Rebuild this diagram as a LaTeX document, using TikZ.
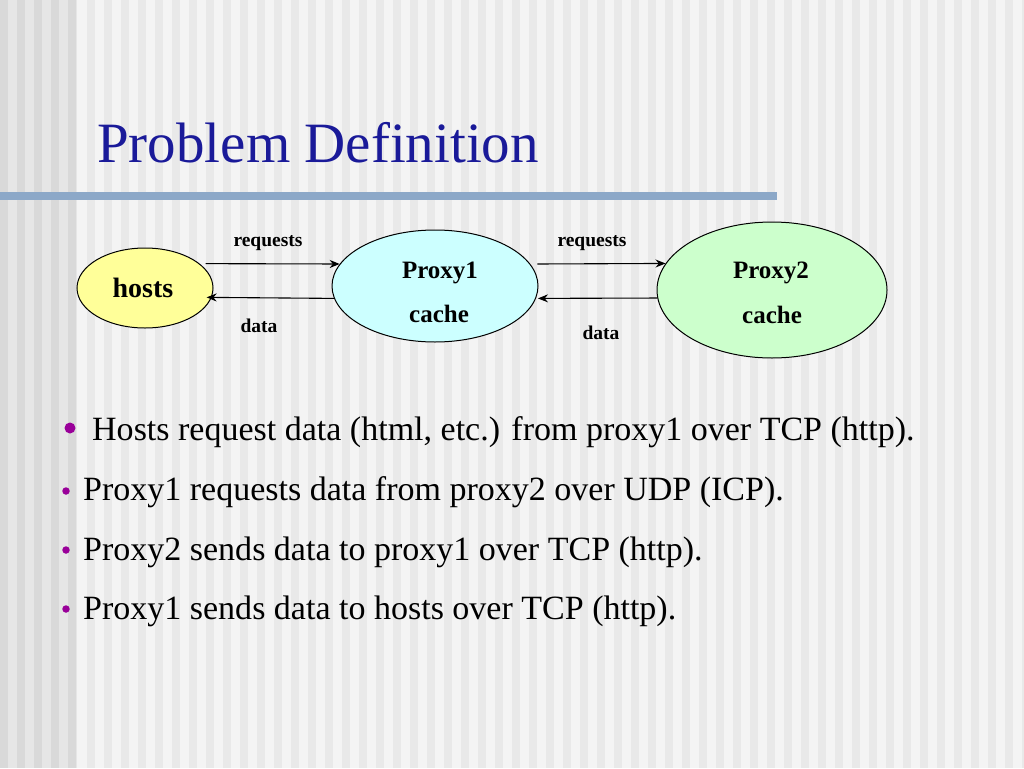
\documentclass[tikz,border=0pt]{standalone}
\usepackage{fontspec}
\setmainfont{Liberation Serif}
\usetikzlibrary{shapes.geometric,arrows.meta,calc}
\definecolor{bgbase}{HTML}{F4F4F4}
\definecolor{bgstripe}{HTML}{E9E9E9}
\definecolor{leftbase}{HTML}{E6E6E6}
\definecolor{leftstripe}{HTML}{D9D9D9}
\definecolor{titleblue}{HTML}{1A1A99}
\definecolor{barblue}{HTML}{8CA8C8}
\definecolor{hostfill}{HTML}{FFFF99}
\definecolor{pafill}{HTML}{CCFFFF}
\definecolor{pbfill}{HTML}{CCFFCC}
\definecolor{bulletpurple}{HTML}{990099}
\tikzset{
  blob/.style={ellipse, draw=black, line width=1pt, inner sep=0pt},
  nodetext/.style={font=\fontsize{25}{30}\selectfont\bfseries, inner sep=0pt, anchor=base},
  edgelabel/.style={font=\fontsize{19.5}{23}\selectfont\bfseries, inner sep=0pt, anchor=base},
  conn/.style={line width=1.1pt, -{Stealth[length=10pt,width=8pt]}},
  bullettext/.style={font=\fontsize{34}{40}\selectfont, inner sep=0pt, anchor=base west},
  dot/.style={circle, fill=bulletpurple, inner sep=0pt}
}
\begin{document}
\begin{tikzpicture}[x=1pt,y=-1pt]
\useasboundingbox (0,0) rectangle (1024,768);
% background stripes
\fill[bgbase] (0,0) rectangle (1024,768);
\foreach \i in {5,...,60} { \fill[bgstripe] (\i*17+2,0) rectangle ++(8,768); }
\fill[leftbase] (0,0) rectangle (77,768);
\foreach \i in {0,...,4} { \fill[leftstripe] (\i*17,0) rectangle ++(8,768); }
% title and bar
\node[anchor=base west, inner sep=0pt, font=\fontsize{57}{66}\selectfont, text=titleblue] (title) at (97,162) {Problem Definition};
\fill[barblue] (0,192) rectangle (777,200);
% diagram
\node[blob, fill=hostfill, minimum width=136pt, minimum height=80pt] (hosts) at (145,288) {};
\node[font=\fontsize{28}{32}\selectfont\bfseries, inner sep=0pt, anchor=base] (hoststext) at (143,297) {hosts};
\node[blob, fill=pafill, minimum width=206pt, minimum height=112pt] (p1) at (435,286) {};
\node[nodetext] (p1a) at (440,278) {Proxy1};
\node[nodetext] (p1b) at (439,322) {cache};
\node[blob, fill=pbfill, minimum width=230pt, minimum height=136pt] (p2) at (772,290) {};
\node[nodetext] (p2a) at (771,278) {Proxy2};
\node[nodetext] (p2b) at (772,323) {cache};
\draw[conn] ($(hosts.24)+(6,0)$) -- (p1.167);
\draw[conn] (p1.187) -- ($(hosts.-8.6)+(-5,0)$);
\draw[conn] ($(p1.13)+(7,0)$) -- (p2.166);
\draw[conn] (p2.184) -- ($(p1.-7)+(2,0)$);
\node[edgelabel] (l1) at (268,246) {requests};
\node[edgelabel] (l2) at (259,332) {data};
\node[edgelabel] (l3) at (592,246) {requests};
\node[edgelabel] (l4) at (601,339) {data};
% bullets
\node[dot, minimum size=11pt] (b1) at (70,428) {};
\node[bullettext] (t1) at (92,440) {Hosts request data (html, etc.) from proxy1 over TCP (http).};
\node[dot, minimum size=7.5pt] (b2) at (66,491) {};
\node[bullettext] (t2) at (83,500) {Proxy1 requests data from proxy2 over UDP (ICP).};
\node[dot, minimum size=7.5pt] (b3) at (66,550) {};
\node[bullettext] (t3) at (83,560) {Proxy2 sends data to proxy1 over TCP (http).};
\node[dot, minimum size=7.5pt] (b4) at (66,609) {};
\node[bullettext] (t4) at (83,619) {Proxy1 sends data to hosts over TCP (http).};
\end{tikzpicture}
\end{document}
